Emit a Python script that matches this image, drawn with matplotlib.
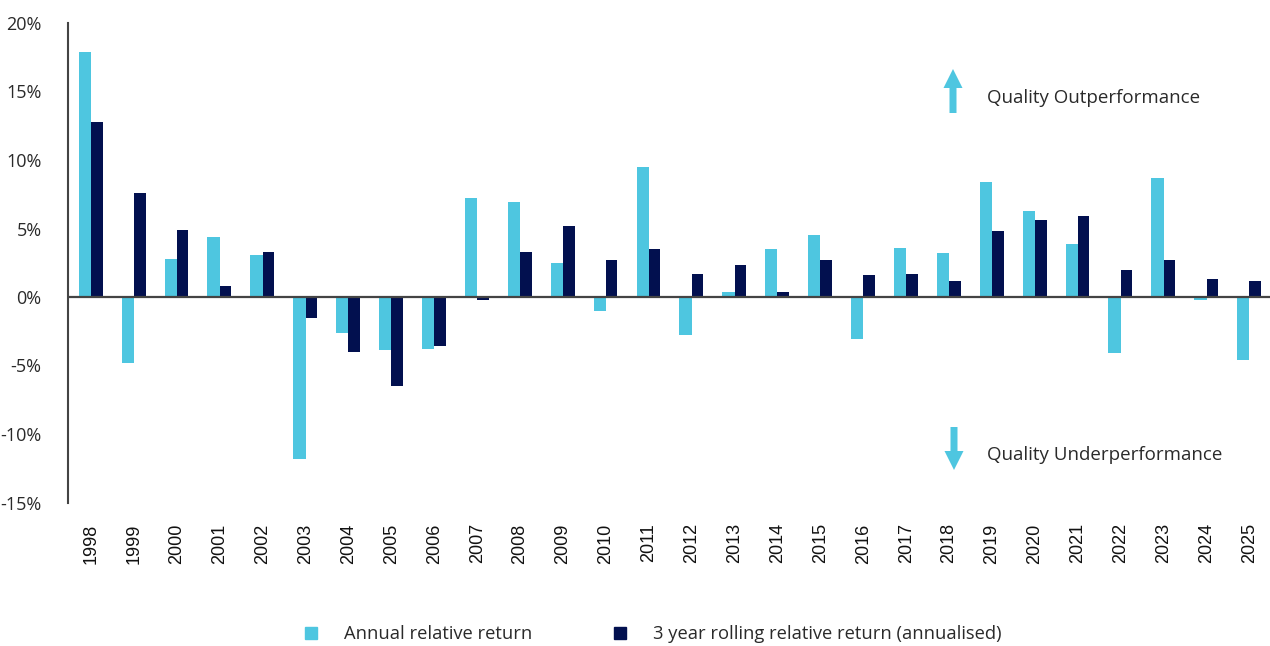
import matplotlib
matplotlib.use("Agg")
import matplotlib.pyplot as plt
import numpy as np
from matplotlib.lines import Line2D

years = [str(y) for y in range(1998, 2026)]
annual = [17.9, -4.8, 2.8, 4.4, 3.1, -11.8, -2.6, -3.9, -3.8, 7.2, 6.9, 2.5, -1.0, 9.5,
          -2.8, 0.4, 3.5, 4.5, -3.1, 3.6, 3.2, 8.4, 6.3, 3.9, -4.1, 8.7, -0.2, -4.6]
rolling3 = [12.8, 7.6, 4.9, 0.8, 3.3, -1.5, -4.0, -6.5, -3.6, -0.2, 3.3, 5.2, 2.7, 3.5,
            1.7, 2.3, 0.4, 2.7, 1.6, 1.7, 1.2, 4.8, 5.6, 5.9, 2.0, 2.7, 1.3, 1.2]
yticks = [-15, -10, -5, 0, 5, 10, 15, 20]
series_names = ["Annual relative return", "3 year rolling relative return (annualised)"]

LIGHT = "#4EC6E0"
DARK = "#02104F"
AXC = "#444444"
TXT = "#2a2a2a"
FONT = ["Open Sans", "DejaVu Sans"]

W, H = 1270, 646
fig = plt.figure(figsize=(W / 100, H / 100), dpi=100)
ax = fig.add_axes([68 / W, 1 - 502.5 / H, 1 - 68 / W, (502.5 - 23) / H])

x = np.arange(len(years))
bw = 0.285
ax.bar(x - bw, annual, width=bw, align="edge", color=LIGHT, zorder=2)
ax.bar(x, rolling3, width=bw * 0.95, align="edge", color=DARK, zorder=2)

ax.set_xlim(-0.536, 27.48)
ax.set_ylim(-15, 20)
ax.axhline(0, color=AXC, lw=1.6, zorder=3)

for s in ["top", "right", "bottom"]:
    ax.spines[s].set_visible(False)
ax.spines["left"].set_color(AXC)
ax.spines["left"].set_linewidth(1.5)

ax.set_yticks(yticks)
ax.set_yticklabels([f"{v}%" for v in yticks], fontfamily=FONT, fontsize=13, color=TXT)
ax.tick_params(axis="y", length=0, pad=19)
ax.set_xticks(x)
ax.set_xticklabels(years, rotation=90, fontfamily="Liberation Sans", fontsize=13, color="#111111")
ax.tick_params(axis="x", length=0, pad=15)

# annotations
fig.text(987 / W, 1 - 98 / H, "Quality Outperformance", fontfamily=FONT, fontsize=13.5,
         color=TXT, va="center", ha="left")
fig.text(987 / W, 1 - 455 / H, "Quality Underperformance", fontfamily=FONT, fontsize=13.5,
         color=TXT, va="center", ha="left")
fig.add_artist(matplotlib.patches.FancyArrow(953 / W, 1 - 113 / H, 0, (113 - 69) / H,
               width=7 / W, head_width=19 / W, head_length=19 / H, length_includes_head=True,
               color=LIGHT, lw=0, transform=fig.transFigure))
fig.add_artist(matplotlib.patches.FancyArrow(954 / W, 1 - 427 / H, 0, -(470 - 427) / H,
               width=7 / W, head_width=19 / W, head_length=19 / H, length_includes_head=True,
               color=LIGHT, lw=0, transform=fig.transFigure))

handles = [Line2D([], [], marker="s", ls="", color=LIGHT, markersize=8),
           Line2D([], [], marker="s", ls="", color=DARK, markersize=8)]
leg = fig.legend(handles, series_names, loc="center", bbox_to_anchor=(652 / W, 1 - 634 / H),
                 ncol=2, frameon=False, prop={"family": FONT, "size": 13.2},
                 handletextpad=1.3, columnspacing=4.3, handlelength=1.0)
for t in leg.get_texts():
    t.set_color(TXT)

fig.savefig("out.png", dpi=100)
